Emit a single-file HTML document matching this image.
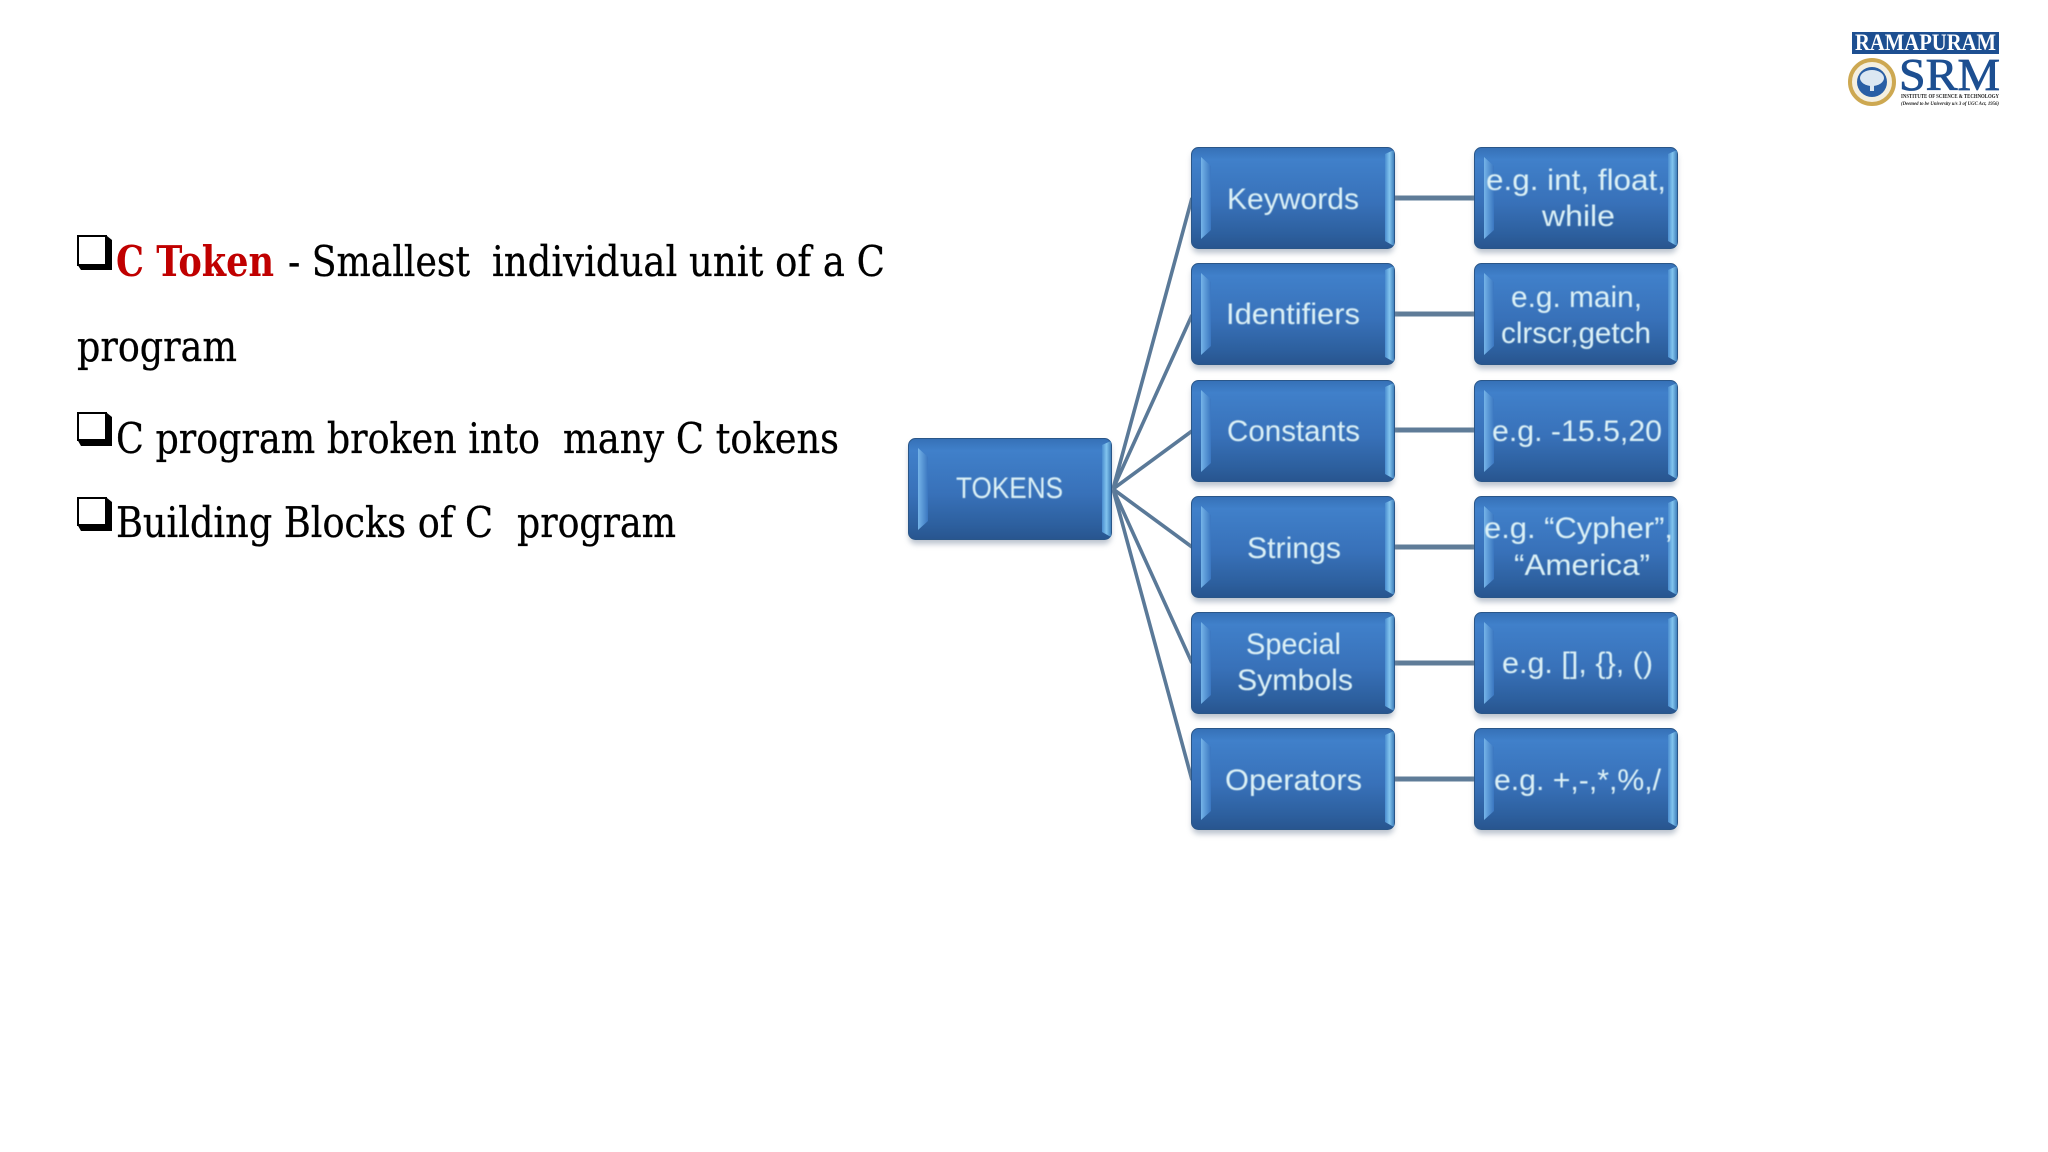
<!DOCTYPE html>
<html><head><meta charset="utf-8"><style>html,body{margin:0;padding:0;background:#fff}svg{display:block}</style></head><body>
<svg xmlns="http://www.w3.org/2000/svg" width="2048" height="1152" viewBox="0 0 2048 1152">
<defs>
<linearGradient id="f" x1="0" y1="0" x2="0" y2="1">
<stop offset="0" stop-color="#3570b6"/><stop offset=".12" stop-color="#4080ca"/><stop offset=".55" stop-color="#3871b9"/><stop offset=".85" stop-color="#2d609f"/><stop offset="1" stop-color="#28558f"/></linearGradient>
<linearGradient id="l" x1="0" y1="0" x2="1" y2="0"><stop offset="0" stop-color="#75b4e8"/><stop offset="1" stop-color="#3a76c0"/></linearGradient>
<linearGradient id="r" x1="0" y1="0" x2="1" y2="0"><stop offset="0" stop-color="#4a8dd0"/><stop offset=".5" stop-color="#82c4ee"/><stop offset="1" stop-color="#4080bc"/></linearGradient>
<filter id="b" x="-10%" y="-20%" width="120%" height="140%"><feGaussianBlur stdDeviation="3"/></filter>
<filter id="s" x="-5%" y="-5%" width="110%" height="110%"><feGaussianBlur stdDeviation=".4"/></filter>
<g id="box">
<rect x="1" y="5" width="202" height="101" rx="7" fill="#8c9aac" opacity=".6" filter="url(#b)"/>
<rect x=".5" y=".5" width="203" height="101" rx="7" fill="url(#f)" stroke="#2a5688"/>
<polygon points="10,10 20,19 20,83 10,92" fill="url(#l)"/>
<polygon points="194,7 203,3 203,99 194,94" fill="url(#r)"/>
</g>
</defs>
<!-- connectors -->
<g stroke="#5a7998" stroke-width="3.6" fill="none">
<line x1="1113" y1="489" x2="1192" y2="198"/>
<line x1="1113" y1="489" x2="1192" y2="315"/>
<line x1="1113" y1="489" x2="1192" y2="431"/>
<line x1="1113" y1="489" x2="1192" y2="547"/>
<line x1="1113" y1="489" x2="1192" y2="663"/>
<line x1="1113" y1="489" x2="1192" y2="780"/>
</g>
<g stroke="#5f7c98" stroke-width="5" fill="none">
<line x1="1394" y1="198" x2="1476" y2="198"/>
<line x1="1394" y1="314" x2="1476" y2="314"/>
<line x1="1394" y1="430" x2="1476" y2="430"/>
<line x1="1394" y1="547" x2="1476" y2="547"/>
<line x1="1394" y1="663" x2="1476" y2="663"/>
<line x1="1394" y1="779" x2="1476" y2="779"/>
</g>
<!-- boxes -->
<use href="#box" x="908" y="438"/>
<use href="#box" x="1191" y="147"/>
<use href="#box" x="1191" y="263"/>
<use href="#box" x="1191" y="380"/>
<use href="#box" x="1191" y="496"/>
<use href="#box" x="1191" y="612"/>
<use href="#box" x="1191" y="728"/>
<use href="#box" x="1474" y="147"/>
<use href="#box" x="1474" y="263"/>
<use href="#box" x="1474" y="380"/>
<use href="#box" x="1474" y="496"/>
<use href="#box" x="1474" y="612"/>
<use href="#box" x="1474" y="728"/>
<!-- box labels -->
<g font-family="'Liberation Sans',sans-serif" font-size="30" fill="#dcf1f6" filter="url(#s)">
<text x="956" y="498" textLength="107" lengthAdjust="spacingAndGlyphs">TOKENS</text>
<text x="1227" y="209" textLength="132" lengthAdjust="spacingAndGlyphs">Keywords</text>
<text x="1226" y="324" textLength="134" lengthAdjust="spacingAndGlyphs">Identifiers</text>
<text x="1227" y="441" textLength="133" lengthAdjust="spacingAndGlyphs">Constants</text>
<text x="1247" y="558" textLength="94" lengthAdjust="spacingAndGlyphs">Strings</text>
<text x="1246" y="654" textLength="95" lengthAdjust="spacingAndGlyphs">Special</text>
<text x="1237" y="690" textLength="116" lengthAdjust="spacingAndGlyphs">Symbols</text>
<text x="1225" y="790" textLength="137" lengthAdjust="spacingAndGlyphs">Operators</text>
<text x="1486" y="190" textLength="180" lengthAdjust="spacingAndGlyphs">e.g. int, float,</text>
<text x="1542" y="226" textLength="73" lengthAdjust="spacingAndGlyphs">while</text>
<text x="1511" y="307" textLength="131" lengthAdjust="spacingAndGlyphs">e.g. main,</text>
<text x="1501" y="343" textLength="150" lengthAdjust="spacingAndGlyphs">clrscr,getch</text>
<text x="1492" y="441" textLength="170" lengthAdjust="spacingAndGlyphs">e.g. -15.5,20</text>
<text x="1484" y="538" textLength="189" lengthAdjust="spacingAndGlyphs">e.g. “Cypher”,</text>
<text x="1514" y="575" textLength="136" lengthAdjust="spacingAndGlyphs">“America”</text>
<text x="1502" y="673" textLength="151" lengthAdjust="spacingAndGlyphs">e.g. [], {}, ()</text>
<text x="1494" y="790" textLength="167" lengthAdjust="spacingAndGlyphs">e.g. +,-,*,%,/</text>
</g>
<!-- checkbox bullets -->
<g fill="#fff" stroke="#000" stroke-width="2">
<path d="M78 236h28v29h-28z"/><path d="M78 413h28v27h-28z"/><path d="M78 498h28v27h-28z"/>
</g>
<g fill="#000">
<path d="M77 264h30v-28l5 4v30h-31z"/><path d="M77 439h30v-26l5 4v29h-31z"/><path d="M77 524h30v-26l5 4v29h-31z"/>
</g>
<!-- main text -->
<g font-family="'DejaVu Serif','Liberation Serif',serif" font-size="42" fill="#000" stroke="#000" stroke-width=".3">
<text x="116" y="276" textLength="158" lengthAdjust="spacingAndGlyphs" font-weight="bold" fill="#c00000" stroke="none">C Token</text>
<text x="288" y="276" textLength="182" lengthAdjust="spacingAndGlyphs">- Smallest</text>
<text x="492" y="276" textLength="393" lengthAdjust="spacingAndGlyphs">individual unit of a C</text>
<text x="77" y="361" textLength="160" lengthAdjust="spacingAndGlyphs">program</text>
<text x="116" y="453" textLength="424" lengthAdjust="spacingAndGlyphs">C program broken into</text>
<text x="563" y="453" textLength="276" lengthAdjust="spacingAndGlyphs">many C tokens</text>
<text x="116" y="537" textLength="377" lengthAdjust="spacingAndGlyphs">Building Blocks of C</text>
<text x="517" y="537" textLength="159" lengthAdjust="spacingAndGlyphs">program</text>
</g>
<!-- logo -->
<rect x="1852" y="32" width="147" height="22" fill="#1d4f91"/>
<text x="1855" y="50" font-family="'Liberation Serif',serif" font-weight="bold" font-size="23" fill="#fff" textLength="141" lengthAdjust="spacingAndGlyphs">RAMAPURAM</text>
<text x="1899" y="90" font-family="'Liberation Serif',serif" font-size="46" fill="#1d4f91" stroke="#1d4f91" stroke-width=".8" textLength="101" lengthAdjust="spacingAndGlyphs">SRM</text>
<circle cx="1872" cy="82" r="22" fill="#f4efe0" stroke="#cda851" stroke-width="4"/>
<circle cx="1872" cy="82" r="15" fill="#2a5fa5"/>
<ellipse cx="1872" cy="78" rx="12" ry="8" fill="#dce7f2"/>
<rect x="1870" y="80" width="4" height="11" fill="#dce7f2"/>
<text x="1901" y="98" font-family="'Liberation Serif',serif" font-weight="bold" font-size="6.5" fill="#222" textLength="98" lengthAdjust="spacingAndGlyphs">INSTITUTE OF SCIENCE &amp; TECHNOLOGY</text>
<text x="1901" y="105" font-family="'Liberation Serif',serif" font-weight="bold" font-style="italic" font-size="5.5" fill="#222" textLength="98" lengthAdjust="spacingAndGlyphs">(Deemed to be University u/s 3 of UGC Act, 1956)</text>
</svg>
</body></html>
